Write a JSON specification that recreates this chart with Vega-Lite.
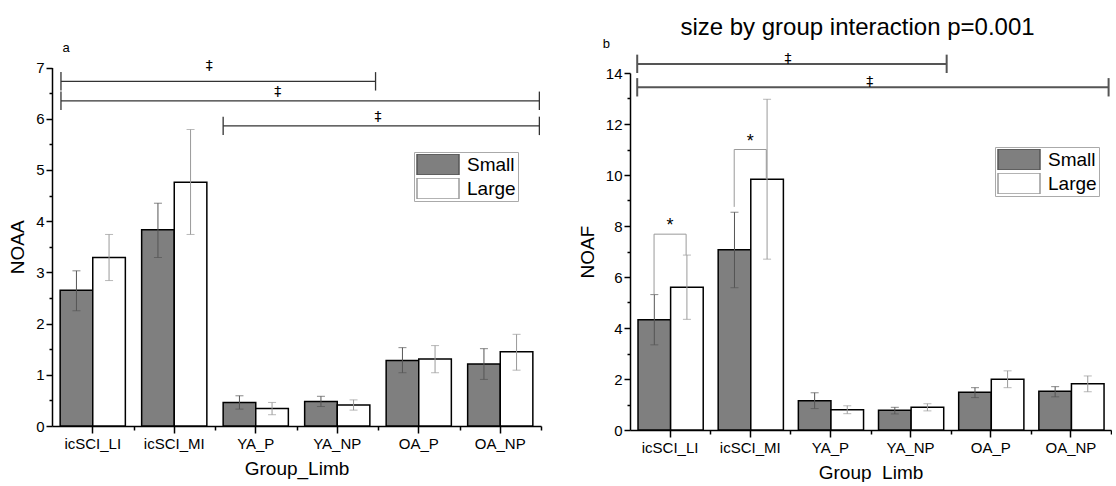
{
  "$schema": "https://vega.github.io/schema/vega-lite/v6.json",
  "background": "white",
  "padding": {"left": 8, "top": 15, "right": 0, "bottom": 0},
  "spacing": 36,
  "resolve": {"scale": {"fill": "independent", "color": "independent"}, "legend": {"fill": "independent"}},
  "config": {
    "font": "Liberation Sans",
    "view": {"stroke": null},
    "axis": {
      "grid": false,
      "domainColor": "black",
      "tickColor": "black",
      "labelColor": "black",
      "titleColor": "black",
      "domainWidth": 1.5,
      "tickWidth": 1.5,
      "labelFont": "Liberation Sans",
      "titleFont": "Liberation Sans",
      "titleFontWeight": "normal",
      "labelFontSize": 15,
      "titleFontSize": 19
    },
    "legend": {
      "labelFont": "Liberation Sans",
      "labelFontSize": 19,
      "labelColor": "black"
    }
  },
  "datasets": {
    "bars": [
      {"panel": "a", "group": "icSCI_LI", "size": "Small", "mean": 2.65, "lo": 2.25, "hi": 3.03},
      {"panel": "a", "group": "icSCI_LI", "size": "Large", "mean": 3.29, "lo": 2.84, "hi": 3.74},
      {"panel": "a", "group": "icSCI_MI", "size": "Small", "mean": 3.83, "lo": 3.29, "hi": 4.35},
      {"panel": "a", "group": "icSCI_MI", "size": "Large", "mean": 4.76, "lo": 3.74, "hi": 5.79},
      {"panel": "a", "group": "YA_P", "size": "Small", "mean": 0.46, "lo": 0.33, "hi": 0.59},
      {"panel": "a", "group": "YA_P", "size": "Large", "mean": 0.34, "lo": 0.22, "hi": 0.46},
      {"panel": "a", "group": "YA_NP", "size": "Small", "mean": 0.48, "lo": 0.38, "hi": 0.58},
      {"panel": "a", "group": "YA_NP", "size": "Large", "mean": 0.41, "lo": 0.31, "hi": 0.51},
      {"panel": "a", "group": "OA_P", "size": "Small", "mean": 1.28, "lo": 1.04, "hi": 1.53},
      {"panel": "a", "group": "OA_P", "size": "Large", "mean": 1.31, "lo": 1.04, "hi": 1.57},
      {"panel": "a", "group": "OA_NP", "size": "Small", "mean": 1.21, "lo": 0.91, "hi": 1.51},
      {"panel": "a", "group": "OA_NP", "size": "Large", "mean": 1.45, "lo": 1.09, "hi": 1.79},
      {"panel": "b", "group": "icSCI_LI", "size": "Small", "mean": 4.32, "lo": 3.34, "hi": 5.31},
      {"panel": "b", "group": "icSCI_LI", "size": "Large", "mean": 5.6, "lo": 4.34, "hi": 6.86},
      {"panel": "b", "group": "icSCI_MI", "size": "Small", "mean": 7.07, "lo": 5.58, "hi": 8.54},
      {"panel": "b", "group": "icSCI_MI", "size": "Large", "mean": 9.83, "lo": 6.7, "hi": 12.97},
      {"panel": "b", "group": "YA_P", "size": "Small", "mean": 1.15, "lo": 0.84, "hi": 1.46},
      {"panel": "b", "group": "YA_P", "size": "Large", "mean": 0.79, "lo": 0.64, "hi": 0.95},
      {"panel": "b", "group": "YA_NP", "size": "Small", "mean": 0.77, "lo": 0.63, "hi": 0.89},
      {"panel": "b", "group": "YA_NP", "size": "Large", "mean": 0.89, "lo": 0.75, "hi": 1.03},
      {"panel": "b", "group": "OA_P", "size": "Small", "mean": 1.48, "lo": 1.27, "hi": 1.66},
      {"panel": "b", "group": "OA_P", "size": "Large", "mean": 1.99, "lo": 1.66, "hi": 2.32},
      {"panel": "b", "group": "OA_NP", "size": "Small", "mean": 1.52, "lo": 1.3, "hi": 1.7},
      {"panel": "b", "group": "OA_NP", "size": "Large", "mean": 1.81, "lo": 1.5, "hi": 2.12}
    ],
    "lines": [
      {"panel": "a", "x": 0.11, "x2": 3.97, "y": 6.73, "y2": 6.73},
      {"panel": "a", "x": 0.11, "x2": 0.11, "y": 6.55, "y2": 6.91},
      {"panel": "a", "x": 3.97, "x2": 3.97, "y": 6.55, "y2": 6.91},
      {"panel": "a", "x": 0.11, "x2": 5.98, "y": 6.35, "y2": 6.35},
      {"panel": "a", "x": 0.11, "x2": 0.11, "y": 6.17, "y2": 6.53},
      {"panel": "a", "x": 5.98, "x2": 5.98, "y": 6.17, "y2": 6.53},
      {"panel": "a", "x": 2.1, "x2": 5.98, "y": 5.86, "y2": 5.86},
      {"panel": "a", "x": 2.1, "x2": 2.1, "y": 5.68, "y2": 6.04},
      {"panel": "a", "x": 5.98, "x2": 5.98, "y": 5.68, "y2": 6.04},
      {"panel": "b", "x": 0.09, "x2": 3.95, "y": 14.35, "y2": 14.35},
      {"panel": "b", "x": 0.09, "x2": 0.09, "y": 14.0, "y2": 14.72},
      {"panel": "b", "x": 3.95, "x2": 3.95, "y": 14.0, "y2": 14.72},
      {"panel": "b", "x": 0.09, "x2": 5.97, "y": 13.44, "y2": 13.44},
      {"panel": "b", "x": 0.09, "x2": 0.09, "y": 13.08, "y2": 13.8},
      {"panel": "b", "x": 5.97, "x2": 5.97, "y": 13.08, "y2": 13.8}
    ],
    "starLines": [
      {"x": 0.3, "x2": 0.7, "y": 7.68, "y2": 7.68},
      {"x": 0.3, "x2": 0.3, "y": 5.32, "y2": 7.68},
      {"x": 0.7, "x2": 0.7, "y": 6.86, "y2": 7.68},
      {"x": 1.3, "x2": 1.7, "y": 11.0, "y2": 11.0},
      {"x": 1.3, "x2": 1.3, "y": 8.75, "y2": 11.0},
      {"x": 1.7, "x2": 1.7, "y": 9.83, "y2": 11.0}
    ],
    "marks": [
      {"panel": "a", "x": 1.93, "y": 7.03, "label": "‡"},
      {"panel": "a", "x": 2.77, "y": 6.53, "label": "‡"},
      {"panel": "a", "x": 4.0, "y": 6.04, "label": "‡"},
      {"panel": "b", "x": 1.97, "y": 14.55, "label": "‡"},
      {"panel": "b", "x": 2.99, "y": 13.65, "label": "‡"}
    ],
    "stars": [
      {"x": 0.5, "y": 8.0, "label": "*"},
      {"x": 1.5, "y": 11.3, "label": "*"}
    ],
    "tags": [
      {"panel": "a", "x": 0.13, "y": 7.38, "label": "a"},
      {"panel": "b", "x": -0.34, "y": 15.15, "label": "b"}
    ]
  },
  "hconcat": [
    {
      "width": 489,
      "height": 353,
      "layer": [
        {
          "data": {"name": "bars"},
          "transform": [{"filter": "datum.panel === 'a'"}],
          "layer": [
            {
              "mark": {"type": "bar", "stroke": "black", "strokeWidth": 1.5},
              "encoding": {
                "x": {"field": "group", "type": "nominal", "scale": {"domain": ["icSCI_LI", "icSCI_MI", "YA_P", "YA_NP", "OA_P", "OA_NP"], "paddingInner": 0.2, "paddingOuter": 0.1}, "axis": {"title": "Group_Limb", "labelAngle": 0, "tickSize": 7, "labelPadding": 3, "titlePadding": 8}},
                "xOffset": {"field": "size", "type": "nominal", "scale": {"domain": ["Small", "Large"]}},
                "y": {"field": "mean", "type": "quantitative", "scale": {"domain": [0, 7], "nice": false, "range": [353, -5.5]}, "axis": {"title": "NOAA", "values": [0, 1, 2, 3, 4, 5, 6, 7], "tickSize": 6, "labelPadding": 2, "titlePadding": 8}},
                "fill": {"field": "size", "type": "nominal", "scale": {"domain": ["Small", "Large"], "range": ["#7f7f7f", "#ffffff"]}, "legend": {"title": null, "orient": "none", "legendX": 362, "legendY": 79, "symbolType": "M-1,-1H3V1H-1Z", "symbolSize": 441, "symbolStrokeColor": "black", "symbolStrokeWidth": 1.5, "strokeColor": "#aaaaaa", "fillColor": "white", "padding": 2, "rowPadding": 3, "clipHeight": 21, "labelOffset": 28}}
              }
            },
            {
              "mark": {"type": "rule", "strokeWidth": 1},
              "encoding": {
                "x": {"field": "group", "type": "nominal"},
                "xOffset": {"field": "size", "type": "nominal"},
                "y": {"field": "lo", "type": "quantitative"},
                "y2": {"field": "hi"},
                "color": {"field": "size", "type": "nominal", "scale": {"domain": ["Small", "Large"], "range": ["#555555", "#9a9a9a"]}, "legend": null}
              }
            },
            {
              "mark": {"type": "tick", "orient": "horizontal", "size": 8, "thickness": 1},
              "encoding": {
                "x": {"field": "group", "type": "nominal"},
                "xOffset": {"field": "size", "type": "nominal"},
                "y": {"field": "lo", "type": "quantitative"},
                "color": {"field": "size", "type": "nominal", "legend": null}
              }
            },
            {
              "mark": {"type": "tick", "orient": "horizontal", "size": 8, "thickness": 1},
              "encoding": {
                "x": {"field": "group", "type": "nominal"},
                "xOffset": {"field": "size", "type": "nominal"},
                "y": {"field": "hi", "type": "quantitative"},
                "color": {"field": "size", "type": "nominal", "legend": null}
              }
            }
          ]
        },
        {
          "layer": [
            {
              "data": {"name": "lines"},
              "transform": [{"filter": "datum.panel === 'a'"}],
              "mark": {"type": "rule", "color": "#333333", "strokeWidth": 1.3},
              "encoding": {
                "x": {"field": "x", "type": "quantitative", "scale": {"domain": [0, 6], "nice": false, "zero": false}, "axis": {"orient": "bottom", "values": [1, 2, 3, 4, 5, 6], "labels": false, "domain": false, "tickSize": 4, "title": null}},
                "x2": {"field": "x2"},
                "y": {"field": "y", "type": "quantitative", "scale": {"domain": [0, 7], "nice": false, "range": [353, -5.5]}, "axis": {"orient": "left", "values": [0.5, 1.5, 2.5, 3.5, 4.5, 5.5, 6.5], "labels": false, "domain": false, "tickSize": 3, "title": null}},
                "y2": {"field": "y2"}
              }
            },
            {
              "data": {"name": "marks"},
              "transform": [{"filter": "datum.panel === 'a'"}],
              "mark": {"type": "text", "fontSize": 14, "font": "DejaVu Sans", "baseline": "middle", "color": "black"},
              "encoding": {
                "x": {"field": "x", "type": "quantitative"},
                "y": {"field": "y", "type": "quantitative"},
                "text": {"field": "label"}
              }
            },
            {
              "data": {"name": "tags"},
              "transform": [{"filter": "datum.panel === 'a'"}],
              "mark": {"type": "text", "fontSize": 13, "baseline": "middle", "align": "left", "color": "black"},
              "encoding": {
                "x": {"field": "x", "type": "quantitative"},
                "y": {"field": "y", "type": "quantitative"},
                "text": {"field": "label"}
              }
            }
          ]
        }
      ],
      "resolve": {"scale": {"x": "independent", "y": "independent"}}
    },
    {
      "width": 481,
      "height": 357,
      "title": {"text": "size by group interaction p=0.001", "fontSize": 24, "fontWeight": "normal", "font": "Liberation Sans", "color": "black", "anchor": "middle", "frame": "group", "offset": -2, "dx": -13},
      "layer": [
        {
          "data": {"name": "bars"},
          "transform": [{"filter": "datum.panel === 'b'"}],
          "layer": [
            {
              "mark": {"type": "bar", "stroke": "black", "strokeWidth": 1.5},
              "encoding": {
                "x": {"field": "group", "type": "nominal", "scale": {"domain": ["icSCI_LI", "icSCI_MI", "YA_P", "YA_NP", "OA_P", "OA_NP"], "paddingInner": 0.2, "paddingOuter": 0.1}, "axis": {"title": "Group_Limb", "labelAngle": 0, "tickSize": 7, "labelPadding": 3, "titlePadding": 8}},
                "xOffset": {"field": "size", "type": "nominal", "scale": {"domain": ["Small", "Large"]}},
                "y": {"field": "mean", "type": "quantitative", "scale": {"domain": [0, 14], "nice": false}, "axis": {"title": "NOAF", "values": [0, 2, 4, 6, 8, 10, 12, 14], "tickSize": 6, "labelPadding": 2, "titlePadding": 8}},
                "fill": {"field": "size", "type": "nominal", "scale": {"domain": ["Small", "Large"], "range": ["#7f7f7f", "#ffffff"]}, "legend": {"title": null, "orient": "none", "legendX": 365, "legendY": 74, "symbolType": "M-1,-1H3V1H-1Z", "symbolSize": 441, "symbolStrokeColor": "black", "symbolStrokeWidth": 1.5, "strokeColor": "#aaaaaa", "fillColor": "white", "padding": 2, "rowPadding": 3, "clipHeight": 21, "labelOffset": 28}}
              }
            },
            {
              "mark": {"type": "rule", "strokeWidth": 1},
              "encoding": {
                "x": {"field": "group", "type": "nominal"},
                "xOffset": {"field": "size", "type": "nominal"},
                "y": {"field": "lo", "type": "quantitative"},
                "y2": {"field": "hi"},
                "color": {"field": "size", "type": "nominal", "scale": {"domain": ["Small", "Large"], "range": ["#555555", "#9a9a9a"]}, "legend": null}
              }
            },
            {
              "mark": {"type": "tick", "orient": "horizontal", "size": 8, "thickness": 1},
              "encoding": {
                "x": {"field": "group", "type": "nominal"},
                "xOffset": {"field": "size", "type": "nominal"},
                "y": {"field": "lo", "type": "quantitative"},
                "color": {"field": "size", "type": "nominal", "legend": null}
              }
            },
            {
              "mark": {"type": "tick", "orient": "horizontal", "size": 8, "thickness": 1},
              "encoding": {
                "x": {"field": "group", "type": "nominal"},
                "xOffset": {"field": "size", "type": "nominal"},
                "y": {"field": "hi", "type": "quantitative"},
                "color": {"field": "size", "type": "nominal", "legend": null}
              }
            }
          ]
        },
        {
          "layer": [
            {
              "data": {"name": "lines"},
              "transform": [{"filter": "datum.panel === 'b'"}],
              "mark": {"type": "rule", "color": "#555555", "strokeWidth": 2},
              "encoding": {
                "x": {"field": "x", "type": "quantitative", "scale": {"domain": [0, 6], "nice": false, "zero": false}, "axis": {"orient": "bottom", "values": [1, 2, 3, 4, 5, 6], "labels": false, "domain": false, "tickSize": 4, "title": null}},
                "x2": {"field": "x2"},
                "y": {"field": "y", "type": "quantitative", "scale": {"domain": [0, 14], "nice": false}, "axis": {"orient": "left", "values": [1, 3, 5, 7, 9, 11, 13], "labels": false, "domain": false, "tickSize": 3, "title": null}},
                "y2": {"field": "y2"}
              }
            },
            {
              "data": {"name": "starLines"},
              "mark": {"type": "rule", "color": "#9a9a9a", "strokeWidth": 1},
              "encoding": {
                "x": {"field": "x", "type": "quantitative"},
                "x2": {"field": "x2"},
                "y": {"field": "y", "type": "quantitative"},
                "y2": {"field": "y2"}
              }
            },
            {
              "data": {"name": "marks"},
              "transform": [{"filter": "datum.panel === 'b'"}],
              "mark": {"type": "text", "fontSize": 14, "font": "DejaVu Sans", "baseline": "middle", "color": "black"},
              "encoding": {
                "x": {"field": "x", "type": "quantitative"},
                "y": {"field": "y", "type": "quantitative"},
                "text": {"field": "label"}
              }
            },
            {
              "data": {"name": "stars"},
              "mark": {"type": "text", "fontSize": 18, "baseline": "middle", "color": "black"},
              "encoding": {
                "x": {"field": "x", "type": "quantitative"},
                "y": {"field": "y", "type": "quantitative"},
                "text": {"field": "label"}
              }
            },
            {
              "data": {"name": "tags"},
              "transform": [{"filter": "datum.panel === 'b'"}],
              "mark": {"type": "text", "fontSize": 13, "baseline": "middle", "align": "left", "color": "black"},
              "encoding": {
                "x": {"field": "x", "type": "quantitative"},
                "y": {"field": "y", "type": "quantitative"},
                "text": {"field": "label"}
              }
            }
          ]
        }
      ],
      "resolve": {"scale": {"x": "independent", "y": "independent"}}
    }
  ]
}
